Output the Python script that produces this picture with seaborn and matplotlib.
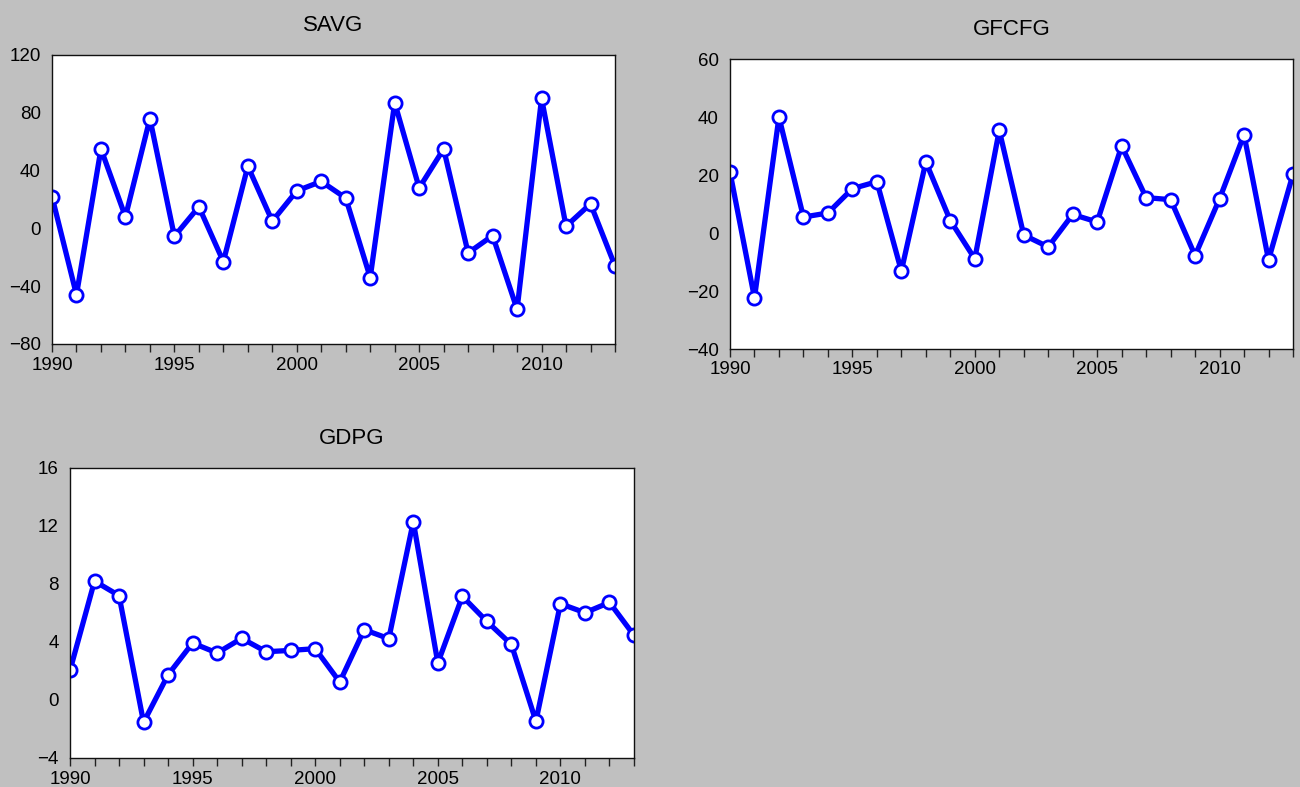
import matplotlib
matplotlib.use("Agg")
import matplotlib.pyplot as plt
from matplotlib.ticker import MultipleLocator
import seaborn as sns
import pandas as pd

years = list(range(1990, 2014))

savg = [22, -46, 55, 8, 76, -5.5, 15, -23, 43, 5, 26, 32.5, 21, -34,
        87, 28, 55, -17, -5, -56, 90, 1.5, 17, -26]
gfcfg = [21, -22.4, 40, 5.5, 6.9, 15.3, 17.7, -13.1, 24.5, 4.3, -8.9, 35.4,
         -0.7, -4.8, 6.4, 3.8, 30, 12.2, 11.5, -7.8, 11.8, 33.9, -9.3, 20.3]
gdpg = [2.04, 8.2, 7.2, -1.54, 1.74, 3.93, 3.24, 4.25, 3.33, 3.42, 3.54, 1.24,
        4.85, 4.23, 12.3, 2.55, 7.15, 5.42, 3.83, -1.47, 6.64, 6.02, 6.73, 4.46]

titles = ["SAVG", "GFCFG", "GDPG"]
ylims = [(-80, 120), (-40, 60), (-4, 16)]
ysteps = [40, 20, 4]

sns.set_style("white")
plt.rcParams["font.family"] = ["Liberation Sans", "DejaVu Sans"]
plt.rcParams["text.color"] = "black"
plt.rcParams["xtick.color"] = "black"
plt.rcParams["ytick.color"] = "black"
plt.rcParams["axes.labelcolor"] = "black"

W, H = 1300, 787
fig = plt.figure(figsize=(W / 100, H / 100), dpi=100)
fig.patch.set_facecolor("#C0C0C0")

# pixel boxes: left, right, top, bottom
boxes = [(52, 615, 55, 344), (730, 1293, 59, 349), (70, 634, 468, 758)]

series = [savg, gfcfg, gdpg]
for (l, r, t, b), name, vals, yl, ys in zip(boxes, titles, series, ylims, ysteps):
    ax = fig.add_axes([l / W, 1 - b / H, (r - l) / W, (b - t) / H])
    ax.set_facecolor("white")
    df = pd.DataFrame({"year": years, "value": vals})
    sns.lineplot(data=df, x="year", y="value", ax=ax, estimator=None,
                 color="#0000FF", linewidth=3.8, marker="o",
                 markersize=9.5, markerfacecolor="white",
                 markeredgecolor="#0000FF", markeredgewidth=2.0)
    ax.set_xlim(1990, 2013)
    ax.set_ylim(*yl)
    ax.yaxis.set_major_locator(MultipleLocator(ys))
    ax.xaxis.set_major_locator(MultipleLocator(5))
    ax.xaxis.set_minor_locator(MultipleLocator(1))
    ax.tick_params(axis="x", which="both", direction="out", length=6,
                   width=1, color="#222222", bottom=True, top=False,
                   labelsize=13.5, pad=3, labelcolor="black")
    ax.tick_params(axis="y", which="both", length=0, pad=8, labelsize=13.5,
                   left=False, labelcolor="black")
    ax.set_xlabel("")
    ax.set_ylabel("")
    ax.set_title(name, fontsize=16, pad=17, color="black")
    for sp in ax.spines.values():
        sp.set_visible(True)
        sp.set_color("#111111")
        sp.set_linewidth(1.0)

fig.savefig("out.png", dpi=100, facecolor=fig.get_facecolor())
